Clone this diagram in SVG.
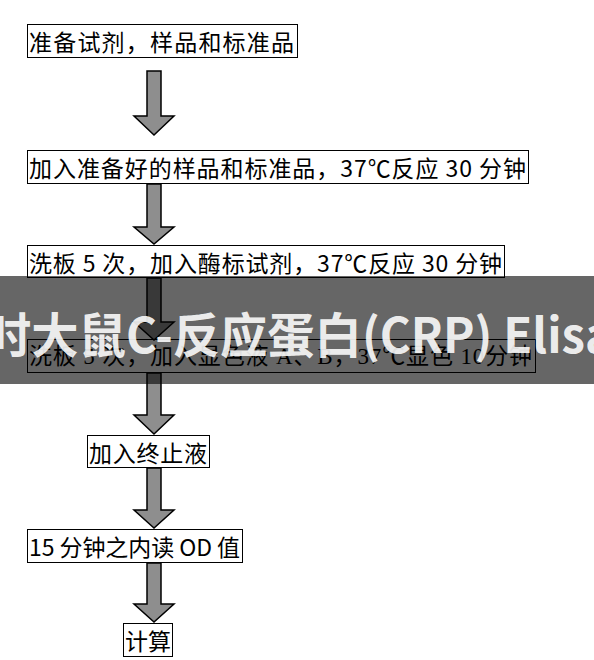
<svg xmlns="http://www.w3.org/2000/svg" width="594" height="660" viewBox="0 0 594 660">
<defs>
<style>
.box{fill:#ffffff;stroke:#000000;stroke-width:1}
.lbl{font-family:"Noto Sans CJK SC","Liberation Sans",sans-serif;font-size:23px;fill:#000000;dominant-baseline:central}
.lbl4{font-family:"Liberation Serif","Noto Sans CJK SC",serif;font-size:23px;fill:#000000;dominant-baseline:central}
.arr{fill:#8e8e8e;stroke:#000000;stroke-width:1.5;stroke-linejoin:miter}
.wm{font-family:"Noto Sans CJK SC","Noto Sans",sans-serif;font-weight:bold;font-size:48px;fill:#ffffff;fill-opacity:0.9}
</style>
</defs>
<rect width="594" height="660" fill="#ffffff"/>
<g id="node1"><rect class="box" x="27.5" y="24.5" width="270" height="33"/><text class="lbl" x="29" y="41" textLength="265" lengthAdjust="spacing">准备试剂，样品和标准品</text></g>
<g id="node2"><rect class="box" x="27.5" y="150.5" width="501" height="33"/><text class="lbl" x="29" y="167" textLength="497" lengthAdjust="spacing">加入准备好的样品和标准品，37℃反应 30 分钟</text></g>
<g id="node3"><rect class="box" x="27.5" y="245.5" width="477" height="32"/><text class="lbl" x="29" y="262" textLength="473" lengthAdjust="spacing">洗板 5 次，加入酶标试剂，37℃反应 30 分钟</text></g>
<g id="node4"><rect class="box" x="27.5" y="339.5" width="508" height="33"/><text class="lbl4" x="29" y="356" textLength="503" lengthAdjust="spacing">洗板 5 次，加入显色液 A、B，37℃显色 10分钟</text></g>
<g id="node5"><rect class="box" x="87.5" y="435.5" width="122" height="32"/><text class="lbl" x="89" y="452" textLength="118" lengthAdjust="spacing">加入终止液</text></g>
<g id="node6"><rect class="box" x="27.5" y="529.5" width="215" height="33"/><text class="lbl" x="29" y="546" textLength="211" lengthAdjust="spacing">15 分钟之内读 OD 值</text></g>
<g id="node7"><rect class="box" x="123.5" y="623.5" width="49" height="33"/><text class="lbl" x="125" y="640" textLength="46" lengthAdjust="spacing">计算</text></g>
<g id="connectors">
<path class="arr" d="M147,71 H161 V116 H174 L154,135 L134,116 H147 Z"/>
<path class="arr" d="M147,184 H161 V227 H174 L154,244 L134,227 H147 Z"/>
<path class="arr" d="M147,278 H161 V322 H174 L154,340 L134,322 H147 Z"/>
<path class="arr" d="M147,373 H161 V415 H174 L154,434 L134,415 H147 Z"/>
<path class="arr" d="M147,468 H161 V510 H174 L154,528 L134,510 H147 Z"/>
<path class="arr" d="M147,563 H161 V604 H174 L154,622 L134,604 H147 Z"/>
</g>
<g id="watermark">
<rect x="0" y="276" width="594" height="108" fill="#000000" fill-opacity="0.6"/>
<text class="wm" x="-16" y="353" textLength="629" lengthAdjust="spacingAndGlyphs">时大鼠C-反应蛋白(CRP) Elisa</text>
</g>
</svg>
